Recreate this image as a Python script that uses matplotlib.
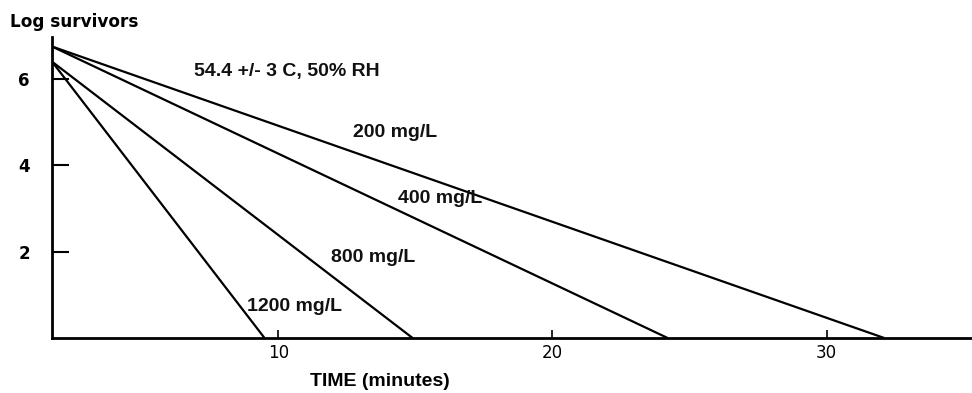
import numpy as np
import matplotlib.pyplot as plt

# 浓度 (mg/L) 及各条直线的起止点 (时间/分钟, 对数存活数)
conc_labels = ['200 mg/L', '400 mg/L', '800 mg/L', '1200 mg/L']
t_start = [1.75, 1.75, 1.75, 1.75]
t_end = [32.1, 24.2, 14.9, 9.5]
log_start = [6.75, 6.75, 6.4, 6.4]
log_end = [0.0, 0.0, 0.0, 0.0]

x_ticks = [10, 20, 30]
y_ticks = [2, 4, 6]

# 标注位置 (数据坐标)
label_pos = [(14.26, 4.77), (15.9, 3.24), (13.46, 1.875), (10.61, 0.72)]

fig = plt.figure(figsize=(9.72, 3.93), dpi=100)
ax = fig.add_axes([52 / 972, 55 / 393, 920 / 972, 301 / 393])

for i in range(len(conc_labels)):
    ax.plot([t_start[i], t_end[i]], [log_start[i], log_end[i]],
            color='black', linewidth=1.6, solid_capstyle='butt')
    ax.text(label_pos[i][0], label_pos[i][1], conc_labels[i],
            fontsize=14, fontweight='bold', family='Liberation Sans',
            ha='center', va='center', color='#111111')

ax.text(10.32, 6.16, '54.4 +/- 3 C, 50% RH', fontsize=14, fontweight='bold',
        family='Liberation Sans', ha='center', va='center', color='#111111')

ax.set_xlim(1.75, 35.3)
ax.set_ylim(0, 6.97)
ax.spines['top'].set_visible(False)
ax.spines['right'].set_visible(False)
ax.spines['left'].set_linewidth(2)
ax.spines['bottom'].set_linewidth(2)

ax.set_xticks(x_ticks)
ax.set_xticklabels([str(v) for v in x_ticks], fontsize=12, family='DejaVu Sans')
ax.set_yticks(y_ticks)
ax.set_yticklabels([str(v) for v in y_ticks], fontsize=12, family='DejaVu Sans',
                   fontweight='bold')
ax.tick_params(axis='y', direction='in', length=12, width=1.5, pad=16)
ax.tick_params(axis='x', direction='in', length=6, width=1.2, pad=4)

ax.set_xlabel('TIME (minutes)', fontsize=14, fontweight='bold',
              family='Liberation Sans', va='center')
ax.xaxis.set_label_coords((380 - 52) / 920, -44 / 301)

fig.text(10 / 972, 1 - 22 / 393, 'Log survivors', fontsize=12.2, fontweight='bold',
         family='DejaVu Sans', ha='left', va='center')

plt.savefig('out.png', dpi=100)
